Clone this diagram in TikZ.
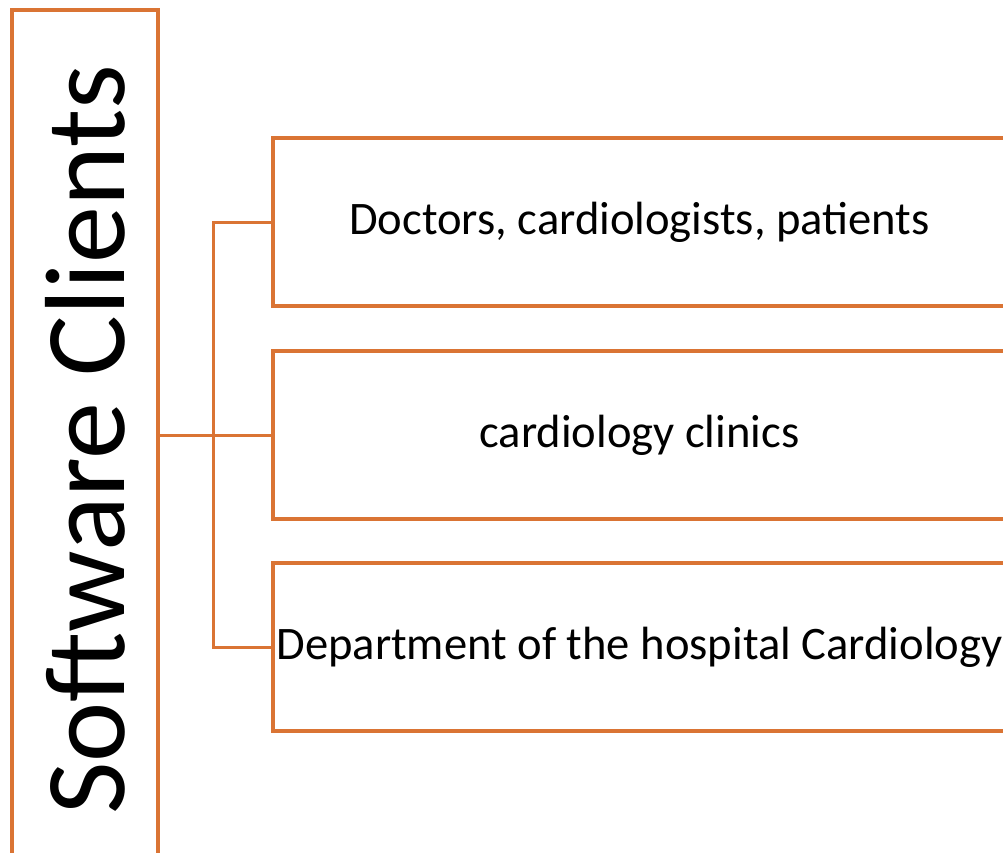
\documentclass[tikz,border=0pt]{standalone}
\usepackage{fontspec}
\setmainfont{Carlito}
\definecolor{Frame}{RGB}{218,116,52}
\usepackage{tikz}
\usetikzlibrary{positioning}
\tikzset{
  clientbox/.style={draw=Frame, line width=3.2pt, rectangle, inner sep=0pt},
  groupbox/.style={clientbox, minimum width=733pt, minimum height=168pt,
    font=\fontsize{46.6}{56}\selectfont},
  link/.style={draw=Frame, line width=3pt}
}

\begin{document}
\begin{tikzpicture}[x=1pt, y=-1pt]
\useasboundingbox (0,0) rectangle (1003,852);
%title box
\node[clientbox, rotate=90, minimum width=860pt, minimum height=146pt,
  font=\fontsize{114}{130}\selectfont] (clients) at (85,440) {Software Clients};
%groups
\node[groupbox] (doctors) at (639.5,222) {Doctors, cardiologists, patients};
\node[groupbox] (clinics) at (639.5,435) {cardiology clinics};
\node[groupbox] (hospital) at (639.5,647) {Department of the hospital Cardiology};
%connectors
\draw[link] (clients.south |- clinics.west) -- (clinics.west);
\draw[link] (doctors.west) -- ++(-58,0) |- (hospital.west);
\end{tikzpicture}
\end{document}
